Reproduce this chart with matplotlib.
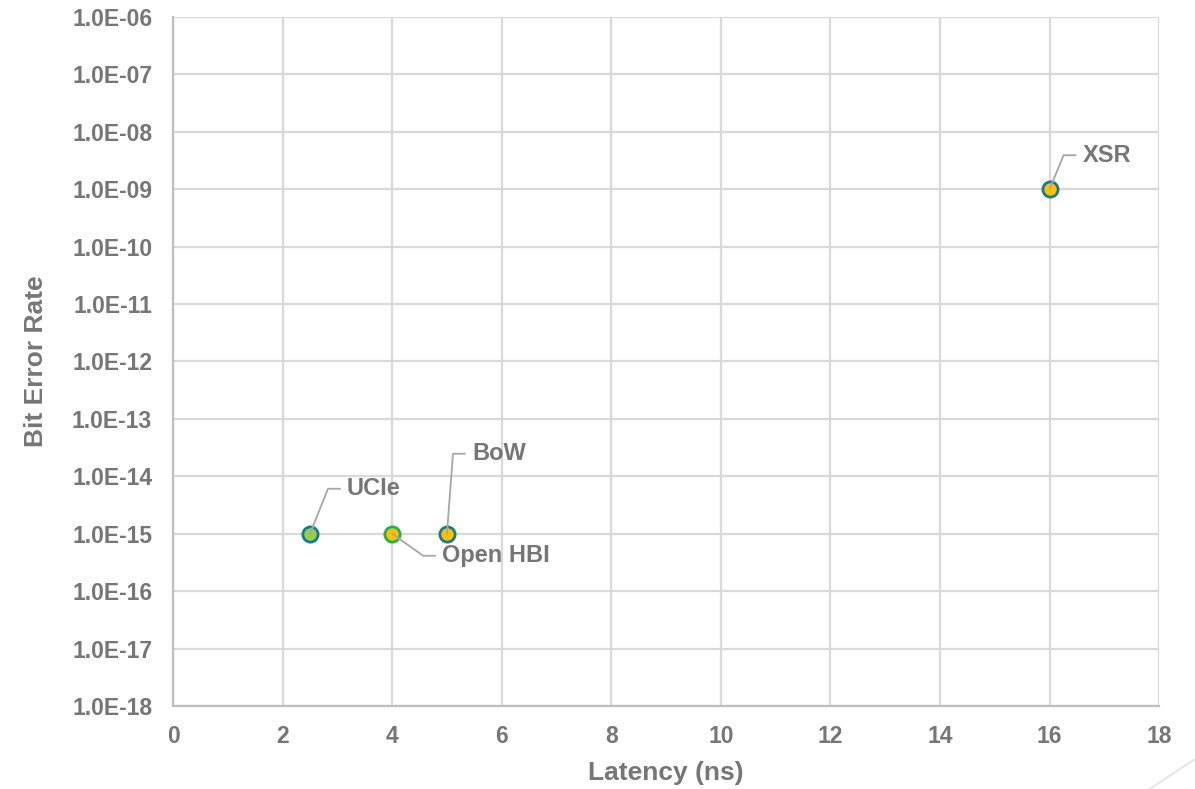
import matplotlib.pyplot as plt
import numpy as np
from matplotlib.lines import Line2D
from matplotlib.ticker import FixedLocator, FuncFormatter

plt.rcParams['font.family'] = ['Liberation Sans', 'DejaVu Sans']
plt.rcParams['font.weight'] = 'bold'

# interconnect standards: latency vs bit error rate
names = ["UCIe", "Open HBI", "BoW", "XSR"]
latency = [2.5, 4.0, 5.0, 16.0]
ber = [1e-15, 1e-15, 1e-15, 1e-9]
fills = ["#92d050", "#ffc000", "#ffc000", "#ffc000"]
edges = ["#1b7a8a", "#22b14c", "#1b7a8a", "#1b7a8a"]
# label offset (pixels) from the point
label_off = [(37, 45), (50, -22), (25, 80), (33, 34)]

grey = "#767676"
grid_c = "#d9d9d9"
lead_c = "#a6a6a6"

fig = plt.figure(figsize=(11.95, 7.89), dpi=100)
ax = fig.add_axes([0.1448, 0.1052, 0.8252 , 0.8733])

ax.set_yscale("log")
ax.set_xlim(0, 18)
ax.set_ylim(1e-18, 1e-6)
ax.xaxis.set_major_locator(FixedLocator(np.arange(0, 19, 2)))
ax.yaxis.set_major_locator(FixedLocator([10.0 ** e for e in range(-18, -5)]))
ax.yaxis.set_minor_locator(FixedLocator([]))
ax.yaxis.set_major_formatter(FuncFormatter(lambda v, p: "1.0E-%02d" % round(-np.log10(v))))

ax.grid(True, color=grid_c, linewidth=1.6)
ax.set_axisbelow(True)
for s in ax.spines.values():
    s.set_visible(False)
ax.spines['left'].set_visible(True)
ax.spines['bottom'].set_visible(True)
ax.spines['left'].set_color("#bfbfbf")
ax.spines['bottom'].set_color("#bfbfbf")
ax.spines['left'].set_linewidth(1.6)
ax.spines['bottom'].set_linewidth(1.6)

ax.tick_params(axis='both', length=0, labelsize=16.5, labelcolor=grey)
ax.tick_params(axis='y', pad=15)
ax.tick_params(axis='x', pad=14)
for t in ax.get_xticklabels() + ax.get_yticklabels():
    t.set_fontweight('bold')

ax.set_xlabel("Latency (ns)", fontsize=19, color=grey, fontweight='bold', labelpad=9)
ax.set_ylabel("Bit Error Rate", fontsize=19, color=grey, fontweight='bold', labelpad=17)

for n, x, y, fc, ec, (dx, dy) in zip(names, latency, ber, fills, edges, label_off):
    ax.scatter([x], [y], s=120, c=fc, edgecolors=ec, linewidths=2, zorder=3)
    ang = np.degrees(np.arctan2(dy, dx - 19))
    ax.annotate(n, xy=(x, y), xytext=(dx, dy), textcoords='offset pixels',
                ha='left', va='center', fontsize=17, color=grey, fontweight='bold',
                arrowprops=dict(arrowstyle='-', color=lead_c, lw=1.3,
                                shrinkA=5, shrinkB=0, patchA=None, relpos=(0, 0.5),
                                connectionstyle="angle,angleA=0,angleB=%.1f,rad=0" % ang),
                zorder=4)

# faint corner stroke
fig.add_artist(Line2D([0.962, 1.0], [0.0, 0.038], color="#e3e3e3", lw=1.2,
                      transform=fig.transFigure))

fig.savefig("out.png", dpi=100)
